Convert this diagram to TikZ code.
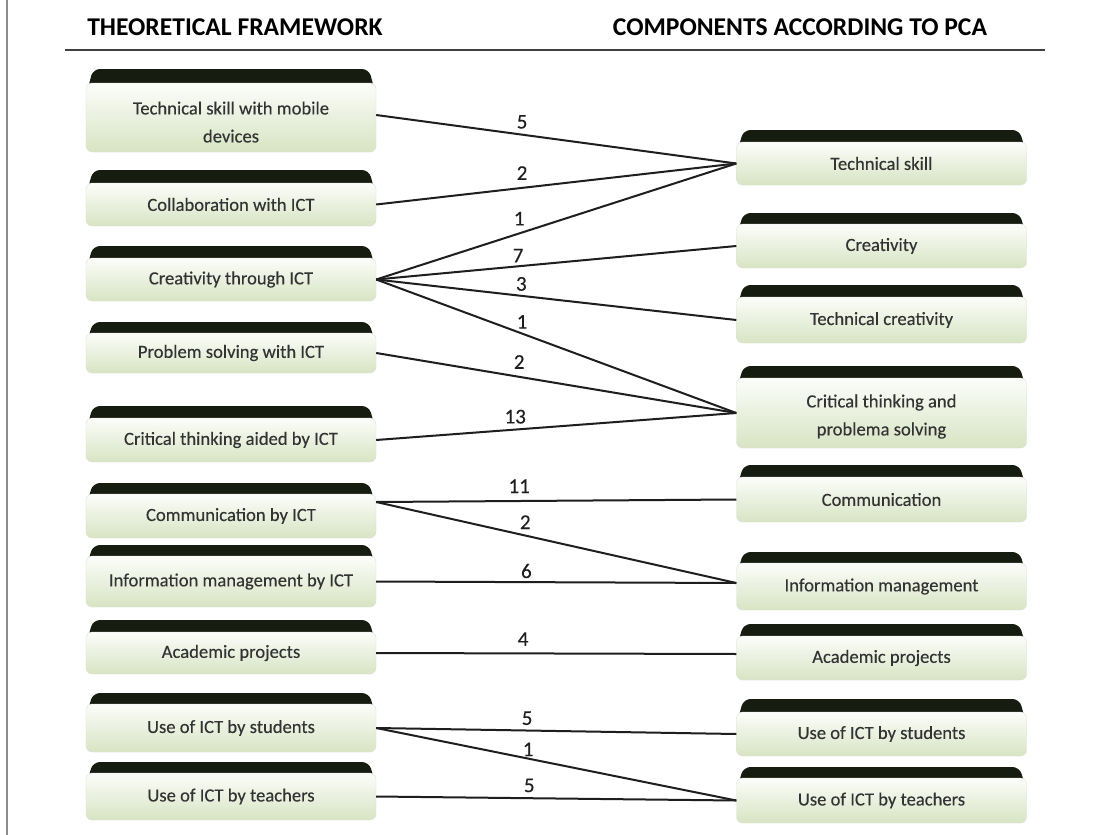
\documentclass[tikz,border=0pt]{standalone}
\usepackage{fontspec}
\setmainfont{Carlito}
\newfontfamily\boxfont[FakeBold=0.25]{Carlito}
\definecolor{tabc}{HTML}{171C10}
\definecolor{bodytop}{HTML}{FCFDFA}
\definecolor{bodybot}{HTML}{D7E4C3}
\definecolor{txt}{HTML}{333333}
\definecolor{linec}{HTML}{1E1E1E}
\tikzset{
 bodybox/.style={rectangle, rounded corners=6pt, minimum width=290pt, inner sep=0pt, align=center,
   top color=bodytop, bottom color=bodybot, draw=bodybot!80!black!40, line width=0.4pt,
   text=txt, font=\boxfont\fontsize{18.6}{28}\selectfont},
 tabshape/.style={fill=tabc, rounded corners=7pt},
 conn/.style={draw=linec, line width=2pt},
 num/.style={font=\boxfont\fontsize{21}{21}\selectfont, text=linec, inner sep=0pt},
 hdr/.style={font=\bfseries\fontsize{25.6}{26}\selectfont, inner sep=0pt, text=black},
}
\newcommand\cbox[6]{%
 \pgfmathsetmacro\cbh{#5-#4}%
 \pgfmathsetmacro\cbc{(#4+#5)/2}%
 \fill[tabshape] (#2-144,#4+9) -- (#2-138,#3) -- (#2+138,#3) -- (#2+144,#4+9) -- cycle;
 \node[bodybox, minimum height=\cbh pt] (#1) at (#2,\cbc) {#6};
}
\begin{document}
\begin{tikzpicture}[x=1pt,y=-1pt]
\fill[white] (0,0) rectangle (1096,835);
\useasboundingbox (0,0) rectangle (1096,835);
\draw[black!45, line width=1.2pt] (7,0) -- (7,835);
\node[hdr] (h1) at (235,27) {THEORETICAL FRAMEWORK};
\node[hdr] (h2) at (800,27) {COMPONENTS ACCORDING TO PCA};
\draw[black!75, line width=2.5pt] (65,50) -- (1045,50);
% left column
\cbox{L1}{231}{69}{83}{152}{\rule{0pt}{22pt}Technical skill with mobile\\devices}
\cbox{L2}{231}{170}{183}{226}{Collaboration with ICT}
\cbox{L3}{231}{246}{258}{301}{Creativity through ICT}
\cbox{L4}{231}{322}{333}{373}{Problem solving with ICT}
\cbox{L5}{231}{406}{418}{462}{Critical thinking aided by ICT}
\cbox{L6}{231}{483}{494}{538}{Communication by ICT}
\cbox{L7}{231}{545}{556}{607}{Information management by ICT}
\cbox{L8}{231}{620}{632}{674}{Academic projects}
\cbox{L9}{231}{693}{704}{752}{Use of ICT by students}
\cbox{L10}{231}{762}{773}{820}{Use of ICT by teachers}
% right column
\cbox{R1}{881.5}{130}{142}{185}{Technical skill}
\cbox{R2}{881.5}{213}{224}{268}{Creativity}
\cbox{R3}{881.5}{285}{297}{343}{Technical creativity}
\cbox{R4}{881.5}{366}{378}{448}{\rule{0pt}{20pt}Critical thinking and\\problema solving}
\cbox{R5}{881.5}{465}{477}{522}{Communication}
\cbox{R6}{881.5}{552}{563}{610}{Information management}
\cbox{R7}{881.5}{624}{636}{680}{Academic projects}
\cbox{R8}{881.5}{699}{712}{756}{Use of ICT by students}
\cbox{R9}{881.5}{767}{778}{823}{Use of ICT by teachers}
% connectors
\draw[conn] ([yshift=2.5pt]L1.east) -- node[num, pos=.405, above=5pt] {5} (R1.west);
\draw[conn] (L2.east) -- node[num, pos=.405, above=7pt] {2} (R1.west);
\draw[conn] (L3.east) -- node[num, pos=.397, above=7pt] {1} (R1.west);
\draw[conn] (L3.east) -- node[num, pos=.394, above=3pt] {7} (R2.west);
\draw[conn] (L3.east) -- node[num, pos=.403, above=4pt] {3} (R3.west);
\draw[conn] (L3.east) -- node[num, pos=.405, above=4pt] {1} (R4.west);
\draw[conn] (L4.east) -- node[num, pos=.397, above=7pt] {2} (R4.west);
\draw[conn] (L5.east) -- node[num, pos=.386, above=5pt] {13} (R4.west);
\draw[conn] ([yshift=14pt]L6.east) -- node[num, pos=.397, above=7pt] {11} (R5.west);
\draw[conn] ([yshift=14pt]L6.east) -- node[num, pos=.414, above=5.5pt] {2} ([yshift=3.5pt]R6.west);
\draw[conn] (L7.east) -- node[num, pos=.417, above=3pt] {6} ([yshift=3.5pt]R6.west);
\draw[conn] (L8.east) -- node[num, pos=.408, above=6.5pt] {4} ([yshift=4pt]R7.west);
\draw[conn] (L9.east) -- node[num, pos=.419, above=4.5pt] {5} (R8.west);
\draw[conn] (L9.east) -- node[num, pos=.422, above=1.5pt] {1} (R9.west);
\draw[conn] (L10.east) -- node[num, pos=.425, above=5pt] {5} (R9.west);
\end{tikzpicture}
\end{document}
